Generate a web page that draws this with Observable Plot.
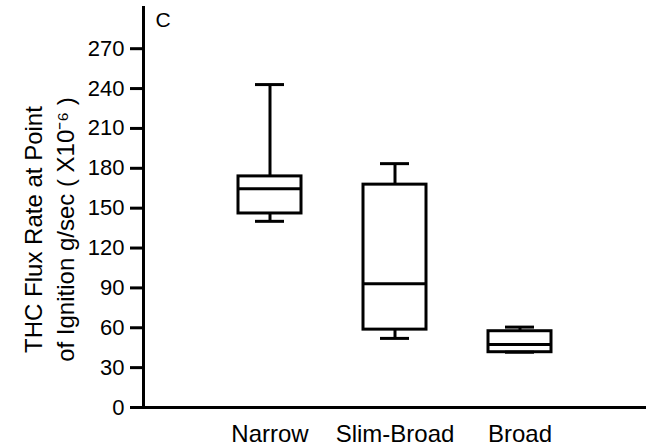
<!DOCTYPE html>
<html>
<head>
<meta charset="utf-8">
<script src="https://cdn.jsdelivr.net/npm/d3@7"></script>
<script src="https://cdn.jsdelivr.net/npm/@observablehq/plot@0.6"></script>
<style>
  html, body { margin: 0; padding: 0; background: #fff; }
  #chart { width: 652px; height: 448px; }
</style>
</head>
<body>
<div id="chart"></div>
<script>
// Box-plot summaries
const categories = ["Narrow", "Slim-Broad", "Broad"];
const whiskerLow  = [140.1, 52.0, 41.6];
const quartile1   = [146.0, 58.6, 41.6];
const medians     = [164.6, 93.2, 47.4];
const quartile3   = [173.9, 167.7, 57.4];
const whiskerHigh = [243.0, 183.5, 60.5];
const yTicks = [0, 30, 60, 90, 120, 150, 180, 210, 240, 270];
const yLabel = "THC Flux Rate at Point\nof Ignition g/sec ( X10\u207B\u2076 )";
const panelLabel = "C";

const rows = categories.map((c, i) => ({
  cat: c, lo: whiskerLow[i], q1: quartile1[i], med: medians[i], q3: quartile3[i], hi: whiskerHigh[i]
}));

const font = "'Liberation Sans', Arial, Helvetica, sans-serif";

const chart = Plot.plot({
  width: 652,
  height: 448,
  marginLeft: 143,
  marginRight: 6,
  marginTop: 7,
  marginBottom: 41,
  style: { fontFamily: font, background: "white", color: "black", overflow: "visible" },
  x: { domain: categories, paddingInner: 0.496, paddingOuter: 0.754, axis: null },
  y: { domain: [0, 301], axis: null },
  marks: [
    Plot.axisY({ ticks: yTicks, tickSize: 13, tickPadding: 6, strokeWidth: 3, fontSize: 22, label: null }),
    Plot.axisX({ tickSize: 0, tickPadding: 17, fontSize: 24, label: null }),
    Plot.frame({ anchor: "left", strokeWidth: 3 }),
    Plot.ruleY([0], { strokeWidth: 3 }),
    Plot.ruleX(rows, { x: "cat", y1: "lo", y2: "hi", strokeWidth: 3 }),
    Plot.barY(rows, { x: "cat", y1: "q1", y2: "q3", fill: "white", stroke: "black", strokeWidth: 3 }),
    Plot.tickY(rows, { x: "cat", y: "med", strokeWidth: 3 }),
    Plot.tickY(rows, { x: "cat", y: "hi", strokeWidth: 3, insetLeft: 17, insetRight: 17 }),
    Plot.tickY(rows, { x: "cat", y: "lo", strokeWidth: 3, insetLeft: 17, insetRight: 17 }),
    Plot.text([yLabel], { frameAnchor: "left", textAnchor: "middle", rotate: -90, dx: -96, dy: 22, fontSize: 24, lineHeight: 1.33, fill: "black" }),
    Plot.text([panelLabel], { frameAnchor: "top-left", textAnchor: "start", dx: 12, dy: 5, lineAnchor: "top", fontSize: 21, fill: "black" })
  ]
});
document.getElementById("chart").appendChild(chart);
</script>
</body>
</html>
